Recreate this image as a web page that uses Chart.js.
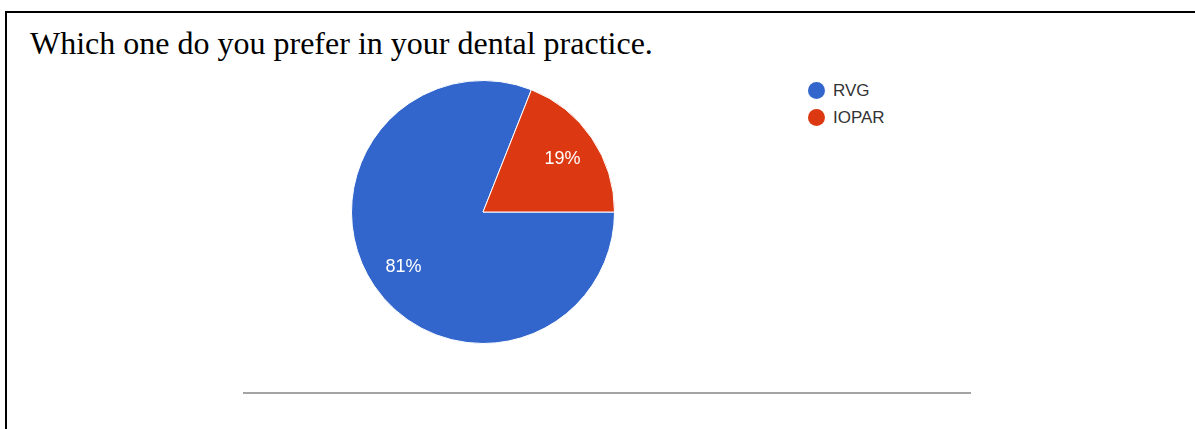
<!DOCTYPE html>
<html>
<head>
<meta charset="utf-8">
<script src="https://cdn.jsdelivr.net/npm/chart.js@4"></script>
<style>
  body { margin: 0; background: #fff; width: 1195px; height: 429px; overflow: hidden; position: relative; }
  .frame { position: absolute; left: 5px; top: 11px; width: 1200px; height: 430px; border-left: 2px solid #000; border-top: 2px solid #000; }
  .title { position: absolute; left: 30px; top: 27px; font-family: "Liberation Serif", "Times New Roman", serif; font-size: 32px; line-height: 32px; color: #000; white-space: nowrap; }
  .pie { position: absolute; left: 351px; top: 80px; width: 264px; height: 264px; }
  .legend { position: absolute; left: 808px; top: 77px; font-family: "Liberation Sans", Arial, sans-serif; font-size: 17px; color: #333; }
  .legend div { height: 27px; line-height: 20px; display: flex; align-items: center; }
  .legend span.dot { display: inline-block; width: 17px; height: 17px; border-radius: 50%; margin-right: 8px; }
  .rule { position: absolute; left: 243px; top: 392px; width: 728px; height: 2px; background: #a4a4a4; }
</style>
</head>
<body>
<div class="frame"></div>
<div class="title">Which one do you prefer in your dental practice.</div>
<div class="pie"><canvas id="pieChart"></canvas></div>
<div class="legend" id="legend"></div>
<div class="rule"></div>
<script>
const labels = ["RVG", "IOPAR"];
const values = [81, 19];
const colors = ["#3366cc", "#dc3912"];

// percentage labels inside the slices, like the google forms pie
const sliceLabels = {
  id: "sliceLabels",
  afterDatasetsDraw(chart) {
    const ctx = chart.ctx;
    const total = values.reduce((a, b) => a + b, 0);
    chart.getDatasetMeta(0).data.forEach((arc, i) => {
      const mid = (arc.startAngle + arc.endAngle) / 2;
      const r = arc.outerRadius * 0.73;
      ctx.save();
      ctx.fillStyle = "#ffffff";
      ctx.font = "18px 'Liberation Sans', Arial, sans-serif";
      ctx.textAlign = "center";
      ctx.textBaseline = "middle";
      ctx.fillText(Math.round((values[i] / total) * 100) + "%", arc.x + Math.cos(mid) * r, arc.y + Math.sin(mid) * r + 1);
      ctx.restore();
    });
  },
};

document.addEventListener("DOMContentLoaded", function () {
  const ctx = document.getElementById("pieChart").getContext("2d");
  new Chart(ctx, {
    type: "pie",
    data: {
      labels: labels,
      datasets: [
        {
          data: values,
          backgroundColor: colors,
          borderColor: "#ffffff",
          borderWidth: 1,
        },
      ],
    },
    options: {
      responsive: true,
      maintainAspectRatio: false,
      animation: false,
      rotation: 90,
      layout: { padding: 0 },
      plugins: {
        legend: { display: false },
        tooltip: { enabled: false },
      },
    },
    plugins: [sliceLabels],
  });

  const legend = document.getElementById("legend");
  labels.forEach((name, i) => {
    const row = document.createElement("div");
    row.innerHTML = '<span class="dot" style="background:' + colors[i] + '"></span>' + name;
    legend.appendChild(row);
  });
});
</script>
</body>
</html>
